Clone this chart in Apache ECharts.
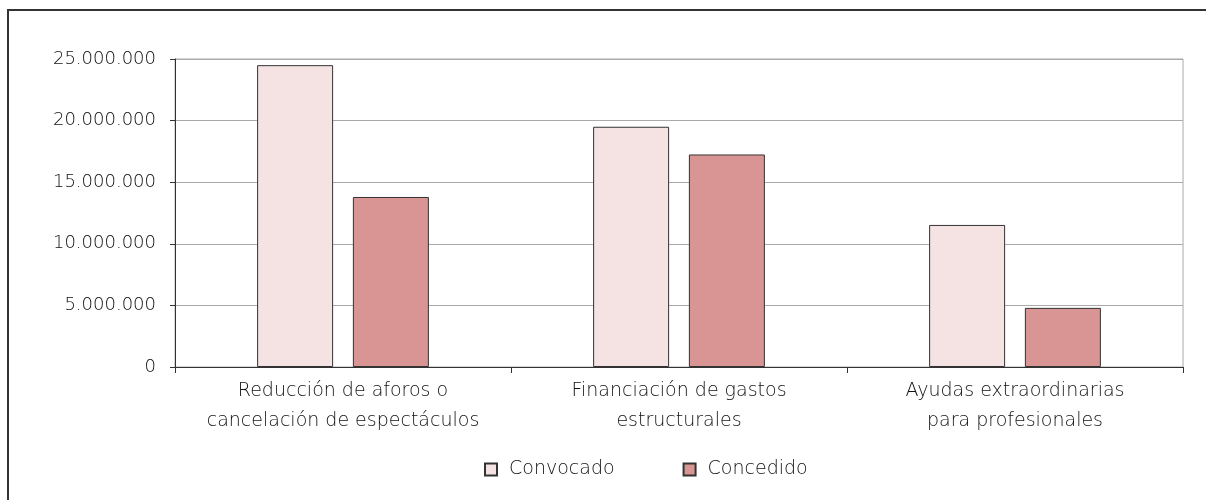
<!DOCTYPE html>
<html>
<head>
<meta charset="utf-8">
<script src="https://cdn.jsdelivr.net/npm/echarts@6/dist/echarts.min.js"></script>
<style>
  html, body { margin: 0; padding: 0; background: #fff; }
  #wrap { position: relative; width: 1206px; height: 500px; }
  #frame { position: absolute; left: 7px; top: 9px; right: -10px; bottom: -10px;
           border-left: 2px solid #333; border-top: 2px solid #333; }
  #chart { position: absolute; left: 0; top: 0; width: 1206px; height: 500px; }
</style>
</head>
<body>
<div id="wrap">
  <div id="frame"></div>
  <div id="chart"></div>
</div>
<script>
// categorías y valores
var categories = [
  "Reducción de aforos o\ncancelación de espectáculos",
  "Financiación de gastos\nestructurales",
  "Ayudas extraordinarias\npara profesionales"
];
var convocado = [24500000, 19500000, 11530000];
var concedido = [13800000, 17250000, 4800000];
var seriesNames = ["Convocado", "Concedido"];

var fontFam = "'DejaVu Sans', sans-serif";

function fmt(v) {
  return String(v).replace(/\B(?=(\d{3})+(?!\d))/g, ".");
}

var myChart = echarts.init(document.getElementById("chart"));
myChart.setOption({
  animation: false,
  grid: {
    left: 175,
    right: 23,
    top: 59,
    bottom: 133,
    show: true,
    borderColor: "#aaa",
    borderWidth: 1
  },
  legend: {
    data: seriesNames,
    left: 484,
    top: 460,
    padding: 0,
    itemWidth: 12,
    itemHeight: 12,
    itemGap: 68,
    icon: "rect",
    textStyle: { color: "#111", fontSize: 19, fontWeight: 200, fontFamily: fontFam, padding: [0, 0, 0, 7] }
  },
  xAxis: {
    type: "category",
    data: categories,
    axisLine: { lineStyle: { color: "#333", width: 1 } },
    axisTick: { show: true, interval: 0, length: 6, lineStyle: { color: "#333" } },
    axisLabel: {
      interval: 0,
      color: "#111",
      fontSize: 19,
      fontWeight: 200,
      fontFamily: fontFam,
      lineHeight: 30,
      margin: 9
    },
    splitLine: { show: false }
  },
  yAxis: {
    type: "value",
    min: 0,
    max: 25000000,
    interval: 5000000,
    axisLine: { show: true, lineStyle: { color: "#333", width: 1 } },
    axisTick: { show: true, length: 5, lineStyle: { color: "#333" } },
    axisLabel: {
      color: "#111",
      fontSize: 18,
      fontWeight: 200,
      fontFamily: fontFam,
      margin: 19,
      formatter: fmt
    },
    splitLine: { lineStyle: { color: "#aaa", width: 1 } }
  },
  series: [
    {
      name: seriesNames[0],
      type: "bar",
      data: convocado,
      barWidth: 76,
      barGap: "26%",
      itemStyle: { color: "#f5e2e2", borderColor: "#333", borderWidth: 1 }
    },
    {
      name: seriesNames[1],
      type: "bar",
      data: concedido,
      barWidth: 76,
      barGap: "26%",
      itemStyle: { color: "#d99594", borderColor: "#333", borderWidth: 1 }
    }
  ]
});
</script>
</body>
</html>
